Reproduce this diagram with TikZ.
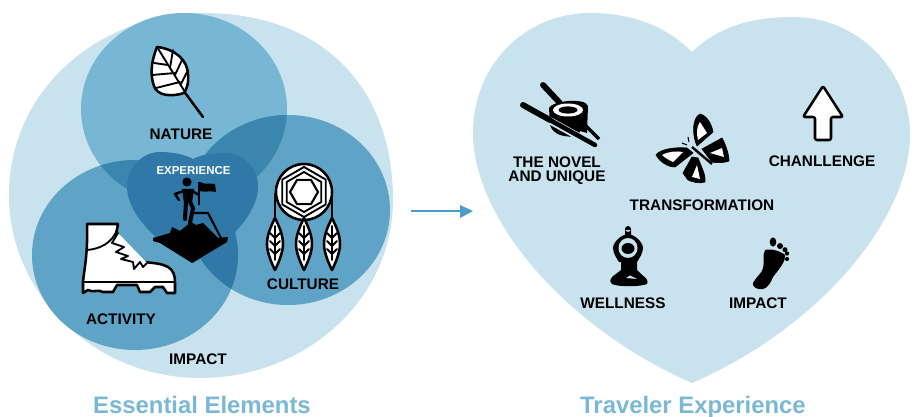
\documentclass[tikz,border=0pt]{standalone}
\usepackage{fontspec}
\setmainfont{Liberation Sans}
\definecolor{blobc}{HTML}{C8E2EE}
\definecolor{naturec}{HTML}{78B7D4}
\definecolor{ringc}{HTML}{5FA4C6}
\definecolor{overc}{HTML}{3A86AE}
\definecolor{corec}{HTML}{2F78A7}
\definecolor{arrowc}{HTML}{4A9FC8}
\definecolor{titlec}{HTML}{7AB8D6}
\tikzset{
  lab/.style={font=\bfseries\fontsize{11.5}{10.5}\selectfont,text=black,align=center,inner sep=0pt,anchor=base},
  ttl/.style={font=\bfseries\fontsize{17.9}{20}\selectfont,text=titlec,inner sep=0pt,anchor=base},
  ico/.style={draw=black,fill=white,line width=1.9pt,line join=round,line cap=round},
  vein/.style={draw=black,line width=1.4pt,line cap=round,line join=round},
  blk/.style={fill=black,draw=black,line width=.5pt,line join=round},
}
\newcommand{\feather}[1]{%
  \begin{scope}[shift={(#1,0)}]
    \path[ico] (0,218) .. controls (-5,228) and (-8,236) .. (-8,244) .. controls (-8,252) and (-4,262) .. (0,270) .. controls (4,262) and (8,252) .. (8,244) .. controls (8,236) and (5,228) .. (0,218) -- cycle;
    \draw[vein] (0,226) -- (0,260);
    \draw[vein] (-5,233) -- (0,238) -- (5,233);
    \draw[vein] (-5,241) -- (0,246) -- (5,241);
    \draw[vein] (-5,249) -- (0,254) -- (5,249);
  \end{scope}}
\begin{document}
\begin{tikzpicture}[x=.75pt,y=-.75pt]
\useasboundingbox (0,0) rectangle (915,417);
% left diagram
\fill[blobc] (203,13) .. controls (320,13) and (393,85) .. (393,200) .. controls (393,300) and (305,378) .. (200,378) .. controls (95,378) and (9,295) .. (9,195) .. controls (9,85) and (105,13) .. (203,13) -- cycle;
\def\pnature{(184,109) ellipse [x radius=103,y radius=96]}
\def\pculture{(288,210) ellipse [x radius=102,y radius=95]}
\def\pactivity{(135,255) ellipse [x radius=103,y radius=95]}
\fill[naturec] \pnature;
\fill[ringc] \pculture;
\fill[ringc] \pactivity;
\begin{scope}\clip \pnature; \fill[overc] \pculture; \fill[overc] \pactivity;\end{scope}
\begin{scope}\clip \pculture; \fill[corec] \pactivity;\end{scope}
\fill[corec] (193,159) .. controls (186,155) and (174,152) .. (160,152) .. controls (142,152) and (127,168) .. (127,187) .. controls (127,212) and (155,243) .. (193,263) .. controls (231,243) and (258,212) .. (258,187) .. controls (258,168) and (243,153) .. (225,153) .. controls (212,153) and (200,155) .. (193,159) -- cycle;
% heart right
\fill[blobc] (692,52) .. controls (665,25) and (630,13) .. (590,13) .. controls (525,13) and (473,65) .. (473,133) .. controls (473,215) and (560,325) .. (692,383) .. controls (825,325) and (910,215) .. (910,135) .. controls (910,70) and (858,17) .. (793,17) .. controls (755,17) and (720,25) .. (692,52) -- cycle;
% leaf
\draw[line width=1.9pt,line cap=round] (183,90) -- (203,117);
\path[ico] (157,47) .. controls (175,49) and (188,60) .. (188,75) .. controls (189,84) and (186,90) .. (184,93) .. controls (172,97) and (157,96) .. (154,86) .. controls (150,75) and (151,62) .. (157,47) -- cycle;
\draw[vein] (157,47) -- (185,92);
\draw[vein] (173,50) -- (170,68); \draw[vein] (182,60) -- (175,75); \draw[vein] (187,72) -- (181,84);
\draw[vein] (154,63) -- (168,65); \draw[vein] (152,75) -- (175,73); \draw[vein] (156,88) -- (180,82);
% boot
\path[ico] (87,224) -- (118,224) -- (116,235) -- (143,262) .. controls (155,263) and (163,264) .. (168,267) .. controls (173,270) and (175,275) .. (175,282) -- (175,293) -- (167,293) -- (163,287) -- (155,287) -- (150,292) -- (140,292) -- (137,285) -- (117,285) -- (113,292) -- (103,292) .. controls (98,289) and (93,293) .. (88,290) -- (83,293) -- (83,282) .. controls (84,270) and (88,255) .. (87,224) -- cycle;
\draw[vein,line width=1.9pt] (83,282) -- (175,282);
\draw[vein] (87,250) .. controls (100,249) and (112,243) .. (117,230);
\draw[vein,fill=white] (118,233) -- (112,243) -- (124,247) -- (116,252) -- (128,256) -- (121,259) -- (133,262) -- (134,269) -- (140,262) -- (143,267) -- (147,263);
% climber + mountain
\fill[black] (153,238) -- (170,233) -- (172,227) -- (180,231) -- (191,222) -- (196,225) -- (203,223) -- (218,238) -- (228,237) -- (227,242) -- (192,263) -- (160,243) -- (153,241) -- cycle;
\draw[line width=1.6pt,line join=round] (192,213) -- (208,213) -- (222,240);
\fill[black] (187,182) circle [radius=4.6];
\fill[black] (182,189) -- (194,189) -- (192,203) -- (184,203) -- cycle;
\draw[line width=1.8pt,line join=round,line cap=round] (184,191) -- (175,194) -- (179,200);
\draw[line width=1.8pt,line cap=round] (192,191) -- (199,195);
\draw[line width=3pt,line cap=round,line join=round] (186,202) -- (185,219);
\draw[line width=3pt,line cap=round,line join=round] (190,202) -- (193,208) -- (190,223);
\draw[line width=1.4pt] (199,182) -- (199,205);
\fill[black] (200,182) .. controls (205,185) and (209,183) .. (215,184) -- (216,192) .. controls (210,190) and (206,193) .. (200,191) -- cycle;
% dream catcher
\draw[line width=1.9pt] (275,193) -- (275,222) (304,215) -- (304,222) (332,193) -- (332,222);
\path[ico] (304,192) circle [radius=28];
\draw[line width=1.4pt,line join=round] (304,167) -- (325.7,179.5) -- (325.7,204.5) -- (304,217) -- (282.3,204.5) -- (282.3,179.5) -- cycle;
\draw[line width=1.4pt,line join=round] (304,172) -- (321.3,182) -- (321.3,202) -- (304,212) -- (286.7,202) -- (286.7,182) -- cycle;
\draw[line width=1.6pt,line join=round] (318,192) -- (311,204.1) -- (297,204.1) -- (290,192) -- (297,179.9) -- (311,179.9) -- cycle;
\feather{275}\feather{304}\feather{332}
% novel icon
\draw[line width=4.4pt,line cap=round] (543,85) -- (560,103);
\draw[line width=2.6pt] (585,125) -- (599,139);
\fill[black] (549,108) .. controls (552,101) and (585,97) .. (588,106) -- (587,133) -- (580,131) -- (578,136) .. controls (565,138) and (553,135) .. (550,125) -- cycle;
\fill[white] (568,110) ellipse [x radius=15,y radius=6.5];
\fill[black] (568,110) ellipse [x radius=9.5,y radius=3.6];
\draw[blobc,line width=5.4pt] (545,118) -- (592,144);
\draw[line width=3.4pt,line cap=round] (523,105) -- (595,145);
\draw[line width=4.4pt,line cap=round] (523,105) -- (550,120);
% butterfly
\path[blk] (700,114) .. controls (708,116) and (712,126) .. (713,132) -- (697,146) .. controls (692,135) and (692,118) .. (700,114) -- cycle;
\path[blk] (722,138) .. controls (726,145) and (729,155) .. (729,161) .. controls (724,163) and (716,163) .. (712,162) -- (702,149) -- cycle;
\path[blk] (656,155) .. controls (660,149) and (675,147) .. (687,148) -- (693,153) -- (675,167) .. controls (668,167) and (660,162) .. (656,155) -- cycle;
\path[blk] (692,157) -- (698,158) .. controls (702,168) and (706,176) .. (705,182) .. controls (700,184) and (692,182) .. (688,180) -- (683,173) -- cycle;
\fill[white] (700,122) -- (707,133) -- (698,140) .. controls (696,133) and (697,126) .. (700,122) -- cycle;
\fill[white] (722,148) -- (724,157) -- (710,153) -- cycle;
\fill[white] (662,155) .. controls (670,151) and (676,151) .. (683,152) -- (673,162) .. controls (669,160) and (665,158) .. (662,155) -- cycle;
\fill[white] (697,165) -- (700,179) -- (692,177) -- cycle;
\draw[line width=1.8pt] (692,147) -- (712,164);
\draw[line width=.8pt] (688,137) -- (689,142) (682,143) -- (687,145);
% up arrow
\path[ico,rounded corners=1.5pt] (823,86) -- (843,117) -- (831,117) -- (831,140) -- (815,140) -- (815,117) -- (803,117) -- cycle;
% yoga
\fill[black] (628,234) .. controls (636,235) and (643,243) .. (643,248) .. controls (643,253) and (639,259) .. (637,262) -- (619,262) .. controls (617,259) and (613,253) .. (613,248) .. controls (613,243) and (620,235) .. (628,234) -- cycle;
\fill[black] (628,229) circle [radius=3] (625,230) rectangle (631,238);
\fill[blobc] (628,248) ellipse [x radius=9.5,y radius=10];
\fill[black] (628,248.5) ellipse [x radius=6.5,y radius=5.5];
\fill[black] (621,258) -- (637,258) -- (637,270) -- (644,277) -- (612,277) -- (621,270) -- cycle;
\fill[black] (618,274) -- (640,274) .. controls (646,277) and (649,281) .. (647,284) .. controls (640,287) and (618,287) .. (612,284) .. controls (608,281) and (611,276) .. (618,274) -- cycle;
\fill[blobc] (626,278) -- (637,279) -- (630,275.5) -- cycle;
% foot
\fill[black] (765,250) .. controls (772,248) and (782,252) .. (785,255) .. controls (786,261) and (780,268) .. (773,277) .. controls (771,282) and (768,288) .. (763,289) .. controls (757,290) and (752,287) .. (753,283) .. controls (756,277) and (763,272) .. (763,268) .. controls (765,262) and (762,256) .. (765,250) -- cycle;
\fill[black] (773,242) ellipse [x radius=3.3,y radius=4.6];
\fill[black] (780,246) circle [radius=3];
\fill[black] (785,249.7) circle [radius=2.5];
\fill[black] (787,253.5) circle [radius=2.2];
\fill[black] (787,259) circle [radius=2.1];
% labels
\node[lab] (nature) at (181,140) {NATURE};
\node[lab,text=white,font=\bfseries\fontsize{8.6}{10}\selectfont] (experience) at (193.5,175) {EXPERIENCE};
\node[lab] (culture) at (303,290) {CULTURE};
\node[lab] (activity) at (121,325) {ACTIVITY};
\node[lab] (impactl) at (198,364) {IMPACT};
\node[lab] (novel) at (557,168) {THE NOVEL};
\node[lab] (unique) at (557,182) {AND UNIQUE};
\node[lab] (challenge) at (822,167) {CHANLLENGE};
\node[lab] (transform) at (702,211) {TRANSFORMATION};
\node[lab] (wellness) at (623,309) {WELLNESS};
\node[lab] (impactr) at (758,309) {IMPACT};
\node[ttl] (essential) at (202,413) {Essential Elements};
\node[ttl] (traveler) at (693,413) {Traveler Experience};
\coordinate (arrstart) at (411,211);
\coordinate (arrend) at (473,211);
\draw[arrowc,line width=1.8pt] (arrstart) -- (462,211);
\fill[arrowc] (460,205) -- (arrend) -- (460,218) -- cycle;
\end{tikzpicture}
\end{document}
